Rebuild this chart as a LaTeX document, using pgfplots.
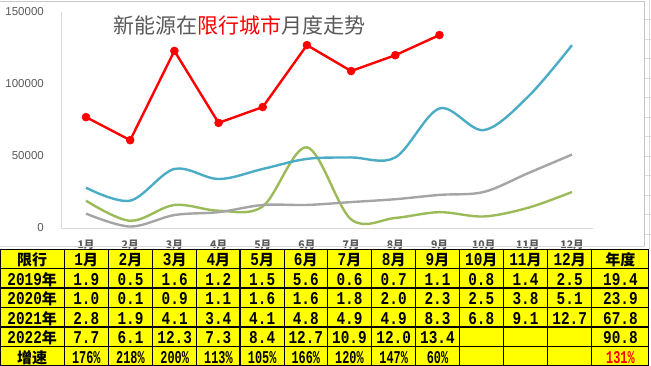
\documentclass[border=0pt]{standalone}
\usepackage{pgfplots}
\pgfplotsset{compat=1.18}
\usepackage{graphicx}
\usepackage{fontspec}
\setmainfont{Liberation Sans}
\newfontfamily\cjk{Noto Sans CJK SC}
\newfontfamily\mono{Liberation Mono}
\definecolor{tgrey}{HTML}{595959}
\definecolor{lblue}{HTML}{4BACC6}
\definecolor{lgreen}{HTML}{9BBB59}
\definecolor{lgrey}{HTML}{A5A5A5}
\definecolor{axgrey}{HTML}{D9D9D9}
\definecolor{frame}{HTML}{C8C8C8}
\definecolor{yel}{HTML}{FFFF00}
\newcommand\D[1]{\scalebox{0.8}[1]{\mono\bfseries\fontsize{18bp}{18bp}\selectfont #1}}
\newcommand\Pc[1]{\scalebox{0.66}[1]{\mono\bfseries\fontsize{18bp}{18bp}\selectfont #1\%}}
\newcommand\C[1]{{\cjk\bfseries\fontsize{15bp}{15bp}\selectfont #1}}
\def\colx{{32.2,86.3,130.5,174.7,218.4,262.2,305.8,349.5,393.7,437.5,481.3,525.5,569.7,620.4}}
\begin{document}
\begin{tikzpicture}
\path[use as bounding box] (0,0) rectangle (651bp,-366bp);
\begin{axis}[
  at={(61bp,-228bp)}, anchor=south west,
  scale only axis, width=532bp, height=216bp,
  xmin=0.434, xmax=12.475, ymin=0, ymax=150000,
  axis x line=bottom, axis y line=left,
  axis line style={draw=axgrey, line width=0.9bp, -},
  major tick length=0,
  xtick={1,...,12},
  xticklabels={1月,2月,3月,4月,5月,6月,7月,8月,9月,10月,11月,12月},
  xticklabel style={font=\cjk\bfseries\fontsize{10.5bp}{10.5bp}\selectfont, text=tgrey, inner sep=0pt, anchor=north, yshift=-11.5bp},
  ytick={0,50000,100000,150000},
  scaled y ticks=false,
  yticklabel style={/pgf/number format/fixed, /pgf/number format/1000 sep={}, /pgf/number format/assume math mode=true, font=\fontsize{11.5bp}{11.5bp}\selectfont, text=tgrey, inner sep=0pt, anchor=east, xshift=-17bp},
  clip=false,
]
\addplot[lgreen, line width=2.4bp, smooth, tension=0.55] coordinates {(1,19000)(2,5000)(3,16000)(4,12000)(5,15000)(6,56000)(7,6000)(8,7000)(9,11000)(10,8000)(11,14000)(12,25000)};
\addplot[lgrey, line width=2.4bp, smooth, tension=0.55] coordinates {(1,10000)(2,1000)(3,9000)(4,11000)(5,16000)(6,16000)(7,18000)(8,20000)(9,23000)(10,25000)(11,38000)(12,51000)};
\addplot[lblue, line width=2.4bp, smooth, tension=0.55] coordinates {(1,28000)(2,19000)(3,41000)(4,34000)(5,41000)(6,48000)(7,49000)(8,49000)(9,83000)(10,68000)(11,91000)(12,127000)};
\addplot[red, line width=2.4bp, mark=*, mark size=4bp, mark options={fill=red, draw=red, line width=0.5bp}] coordinates {(1,77000)(2,61000)(3,123000)(4,73000)(5,84000)(6,127000)(7,109000)(8,120000)(9,134000)};
\end{axis}
\node[anchor=west, inner sep=0pt, font=\cjk\fontsize{21bp}{21bp}\selectfont] at (113bp,-25bp) {\textcolor{tgrey}{新能源在}\textcolor{red}{限行城市}\textcolor{tgrey}{月度走势}};
\begin{scope}[x=1bp, y=-1bp]
  % chart frame and sheet grid
  \draw[frame, line width=1bp] (0,1.5) -- (644.5,1.5) -- (644.5,247);
  \draw[axgrey, line width=1bp] (0,246.7) -- (644.5,246.7);
  \draw[axgrey, line width=0.8bp] (649.5,0) -- (649.5,249);
  \foreach \yy in {19.5,39,58.5,78,97.5,117,136.5,156,175.5,195,214.5,234} {\draw[axgrey, line width=0.8bp] (645,\yy) -- (651,\yy);}
  % table
  \fill[yel] (0,249) rectangle (649,366);
  \foreach \yy in {249.5,268.5,288,307.5,327,346.5,365.5} {\draw[black, line width=1.2bp] (0,\yy) -- (649,\yy);}
  \foreach \xx in {0.6,64.3,108.3,152.7,196.7,240,284.3,327.3,371.7,415.7,459.3,503.3,547.7,591.7,648.4} {\draw[black, line width=1.2bp] (\xx,249.5) -- (\xx,365.5);}
  % header row
  \node[anchor=base, inner sep=0pt] at (32.2,265.5) {\C{限行}};
  \foreach \i in {1,...,12} {\pgfmathsetmacro\xx{\colx[\i]}\node[anchor=base, inner sep=0pt] at (\xx,265.5) {\D{\i}\C{月}};}
  \node[anchor=base, inner sep=0pt] at (620.4,265.5) {\C{年度}};
  % 2019
  \node[anchor=base, inner sep=0pt] at (32.2,285) {\D{2019}\C{年}};
  \foreach \v [count=\i] in {1.9,0.5,1.6,1.2,1.5,5.6,0.6,0.7,1.1,0.8,1.4,2.5,19.4} {\pgfmathsetmacro\xx{\colx[\i]}\node[anchor=base, inner sep=0pt] at (\xx,285) {\D{\v}};}
  % 2020
  \node[anchor=base, inner sep=0pt] at (32.2,304.5) {\D{2020}\C{年}};
  \foreach \v [count=\i] in {1.0,0.1,0.9,1.1,1.6,1.6,1.8,2.0,2.3,2.5,3.8,5.1,23.9} {\pgfmathsetmacro\xx{\colx[\i]}\node[anchor=base, inner sep=0pt] at (\xx,304.5) {\D{\v}};}
  % 2021
  \node[anchor=base, inner sep=0pt] at (32.2,324) {\D{2021}\C{年}};
  \foreach \v [count=\i] in {2.8,1.9,4.1,3.4,4.1,4.8,4.9,4.9,8.3,6.8,9.1,12.7,67.8} {\pgfmathsetmacro\xx{\colx[\i]}\node[anchor=base, inner sep=0pt] at (\xx,324) {\D{\v}};}
  % 2022
  \node[anchor=base, inner sep=0pt] at (32.2,343.5) {\D{2022}\C{年}};
  \foreach \v [count=\i] in {7.7,6.1,12.3,7.3,8.4,12.7,10.9,12.0,13.4} {\pgfmathsetmacro\xx{\colx[\i]}\node[anchor=base, inner sep=0pt] at (\xx,343.5) {\D{\v}};}
  \node[anchor=base, inner sep=0pt] at (620.4,343.5) {\D{90.8}};
  % growth
  \node[anchor=base, inner sep=0pt] at (32.2,363) {\C{增速}};
  \foreach \v [count=\i] in {176,218,200,113,105,166,120,147,60} {\pgfmathsetmacro\xx{\colx[\i]}\node[anchor=base, inner sep=0pt] at (\xx,363) {\Pc{\v}};}
  \node[anchor=base, inner sep=0pt, text=red] at (620.4,363) {\Pc{131}};
\end{scope}
\end{tikzpicture}
\end{document}
